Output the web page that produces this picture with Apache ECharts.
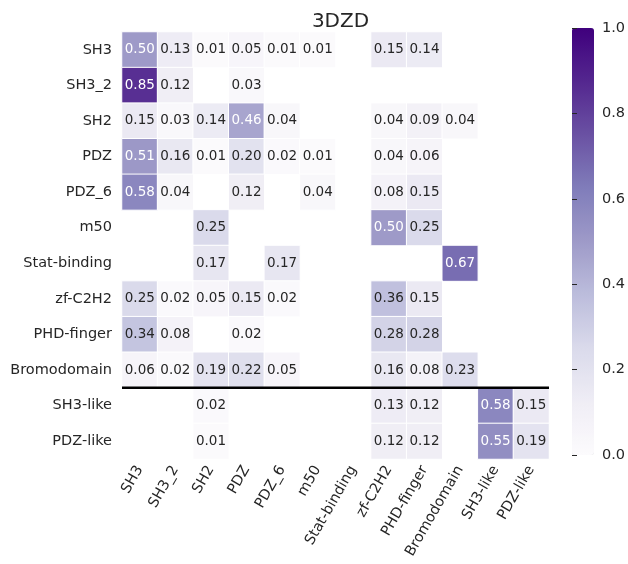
<!DOCTYPE html>
<html>
<head>
<meta charset="utf-8">
<script src="https://cdn.jsdelivr.net/npm/echarts@6/dist/echarts.min.js"></script>
<style>html,body{margin:0;padding:0;background:#fff;}#main{width:628px;height:564px;}</style>
</head>
<body>
<div id="main"></div>
<script>
var titleText = '3DZD';
var rowLabels = ['SH3','SH3_2','SH2','PDZ','PDZ_6','m50','Stat-binding','zf-C2H2','PHD-finger','Bromodomain','SH3-like','PDZ-like'];
var colLabels = ['SH3','SH3_2','SH2','PDZ','PDZ_6','m50','Stat-binding','zf-C2H2','PHD-finger','Bromodomain','SH3-like','PDZ-like'];
var N = null;
var rowSH3        = [0.50,0.13,0.01,0.05,0.01,0.01,N,0.15,0.14,N,N,N];
var rowSH3_2      = [0.85,0.12,N,0.03,N,N,N,N,N,N,N,N];
var rowSH2        = [0.15,0.03,0.14,0.46,0.04,N,N,0.04,0.09,0.04,N,N];
var rowPDZ        = [0.51,0.16,0.01,0.20,0.02,0.01,N,0.04,0.06,N,N,N];
var rowPDZ_6      = [0.58,0.04,N,0.12,N,0.04,N,0.08,0.15,N,N,N];
var rowM50        = [N,N,0.25,N,N,N,N,0.50,0.25,N,N,N];
var rowStat       = [N,N,0.17,N,0.17,N,N,N,N,0.67,N,N];
var rowZf         = [0.25,0.02,0.05,0.15,0.02,N,N,0.36,0.15,N,N,N];
var rowPHD        = [0.34,0.08,N,0.02,N,N,N,0.28,0.28,N,N,N];
var rowBromo      = [0.06,0.02,0.19,0.22,0.05,N,N,0.16,0.08,0.23,N,N];
var rowSH3like    = [N,N,0.02,N,N,N,N,0.13,0.12,N,0.58,0.15];
var rowPDZlike    = [N,N,0.01,N,N,N,N,0.12,0.12,N,0.55,0.19];
var matrix = [rowSH3,rowSH3_2,rowSH2,rowPDZ,rowPDZ_6,rowM50,rowStat,rowZf,rowPHD,rowBromo,rowSH3like,rowPDZlike];
var separatorRow = 10;
var colorbarMin = 0, colorbarMax = 1, colorbarStep = 0.2;
var purples = ['#fcfbfd','#efedf5','#dadaeb','#bcbddc','#9e9ac8','#807dba','#6a51a3','#54278f','#3f007d'];

var heatData = [];
matrix.forEach(function(row, r){
  row.forEach(function(v, c){
    if (v !== null) {
      heatData.push({value:[c, r, v], label:{color: v >= 0.42 ? '#ffffff' : '#262626'}});
    }
  });
});

var GL = 122, GT = 32, GW = 427, GH = 427;
var CBL = 572, CBT = 28, CBW = 22, CBH = 427;
var font = 'DejaVu Sans';
var chart = echarts.init(document.getElementById('main'), null, {renderer:'canvas'});
chart.setOption({
  backgroundColor:'#ffffff',
  animation:false,
  title:{text:titleText, left:GL+GW/2, top:7, textAlign:'center',
    textStyle:{fontFamily:font, fontSize:20, fontWeight:'normal', color:'#262626'}},
  grid:[
    {left:GL, top:GT, width:GW, height:GH},
    {left:GL, top:GT, width:GW, height:GH},
    {left:CBL, top:CBT, width:CBW, height:CBH}
  ],
  xAxis:[
    {type:'category', gridIndex:0, data:colLabels, axisLine:{show:false}, axisTick:{show:false}, splitLine:{show:false},
      axisLabel:{rotate:60, margin:8, interval:0, fontFamily:font, fontSize:14.5, color:'#262626'}},
    {type:'value', gridIndex:1, min:0, max:colLabels.length, show:false},
    {type:'value', gridIndex:2, min:0, max:1, show:false}
  ],
  yAxis:[
    {type:'category', gridIndex:0, data:rowLabels, inverse:true, axisLine:{show:false}, axisTick:{show:false}, splitLine:{show:false},
      axisLabel:{margin:10, interval:0, fontFamily:font, fontSize:14.5, color:'#262626'}},
    {type:'value', gridIndex:1, min:0, max:rowLabels.length, inverse:true, show:false},
    {type:'value', gridIndex:2, min:colorbarMin, max:colorbarMax, interval:colorbarStep, position:'right', z:10,
      axisLine:{show:false}, splitLine:{show:false},
      axisTick:{show:true, inside:false, length:5, lineStyle:{color:'#262626', width:1}},
      axisLabel:{margin:9, fontFamily:font, fontSize:14.5, color:'#262626', formatter:function(v){return v.toFixed(1);}}}
  ],
  visualMap:{
    type:'continuous', min:colorbarMin, max:colorbarMax, seriesIndex:0, calculable:false, hoverLink:false, realtime:false,
    left:CBL, top:CBT, padding:0, itemWidth:CBW, itemHeight:CBH, showLabel:false,
    inRange:{color:purples}
  },
  series:[
    {type:'heatmap', xAxisIndex:0, yAxisIndex:0, data:heatData,
      itemStyle:{borderColor:'#ffffff', borderWidth:1},
      label:{show:true, fontFamily:font, fontSize:13.5, formatter:function(p){return p.value[2].toFixed(2);}},
      emphasis:{disabled:true}},
    {type:'line', xAxisIndex:1, yAxisIndex:1, data:[[0,separatorRow],[colLabels.length,separatorRow]],
      symbol:'none', lineStyle:{color:'#000000', width:2.5}, silent:true}
  ]
});
</script>
</body>
</html>
